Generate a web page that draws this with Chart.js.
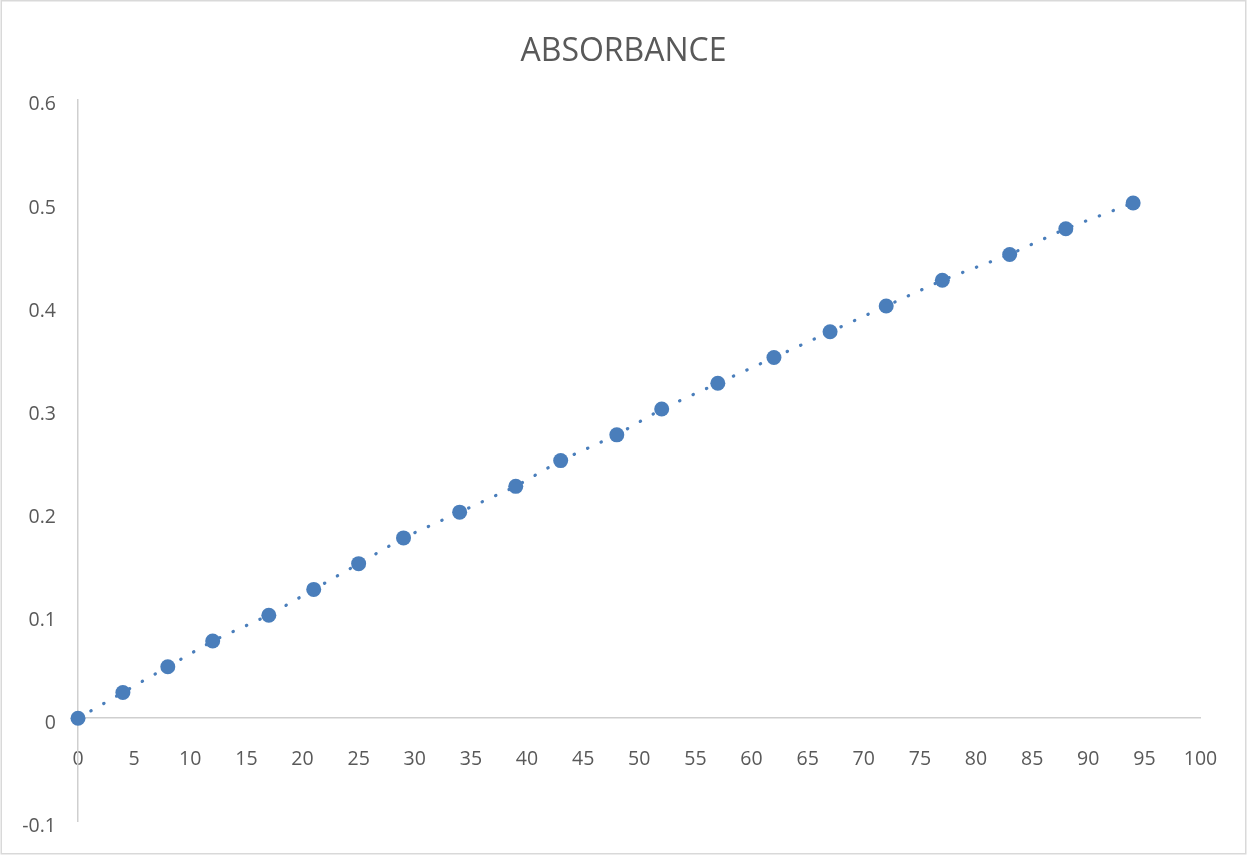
<!DOCTYPE html>
<html>
<head>
<meta charset="utf-8">
<script src="https://cdn.jsdelivr.net/npm/chart.js@4.4.0/dist/chart.umd.min.js"></script>
<style>
  html, body { margin: 0; padding: 0; background: #ffffff; }
  #wrap { position: relative; width: 1247px; height: 855px; }
</style>
</head>
<body>
<div id="wrap"><canvas id="chart"></canvas></div>
<script>
// Sample concentrations (x) and measured absorbance (y)
const concentration = [0, 4, 8, 12, 17, 21, 25, 29, 34, 39, 43, 48, 52, 57, 62, 67, 72, 77, 83, 88, 94];
const absorbance = [0, 0.025, 0.05, 0.075, 0.1, 0.125, 0.15, 0.175, 0.2, 0.225, 0.25,
                    0.275, 0.3, 0.325, 0.35, 0.375, 0.4, 0.425, 0.45, 0.475, 0.5];

// Axis ranges and tick spacing
const xRange = [0, 100];
const xStep = 5;
const yRange = [-0.1, 0.6];
const yStep = 0.1;

const chartTitle = 'ABSORBANCE';

const points = concentration.map((x, i) => ({ x, y: absorbance[i] }));

const BLUE = '#4a7ebb';
const TEXT = '#595959';
const AXIS = '#cfcfcf';
const FONT = "'Open Sans', 'DejaVu Sans', sans-serif";

// Light frame around the whole chart
const framePlugin = {
  id: 'frame',
  beforeDraw(chart) {
    const ctx = chart.ctx;
    ctx.save();
    ctx.fillStyle = '#ffffff';
    ctx.fillRect(0, 0, chart.width, chart.height);
    ctx.strokeStyle = '#d9d9d9';
    ctx.lineWidth = 1.5;
    ctx.strokeRect(1.25, 0.75, chart.width - 2.5, chart.height - 2);
    ctx.restore();
  }
};

new Chart(document.getElementById('chart'), {
  type: 'scatter',
  data: {
    datasets: [
      {
        label: 'Absorbance',
        data: points,
        showLine: true,
        borderColor: BLUE,
        borderWidth: 3.2,
        borderDash: [0.4, 14.4],
        borderCapStyle: 'round',
        pointRadius: 7.5,
        pointHoverRadius: 7.5,
        pointBackgroundColor: BLUE,
        pointBorderColor: BLUE,
        pointBorderWidth: 0,
        fill: false,
        clip: false
      }
    ]
  },
  options: {
    responsive: true,
    maintainAspectRatio: false,
    animation: false,
    events: [],
    layout: { padding: { left: 0, right: 0, top: 0, bottom: 29 } },
    plugins: {
      legend: { display: false },
      tooltip: { enabled: false },
      title: {
        display: true,
        text: chartTitle,
        color: TEXT,
        font: { family: FONT, size: 32, weight: 'normal', lineHeight: 1.2 },
        padding: { top: 33, bottom: 28.5 }
      }
    },
    scales: {
      x: {
        type: 'linear',
        position: { y: 0 },
        min: xRange[0],
        max: xRange[1],
        afterFit(scale) { scale.height = 0; },
        grid: { display: false, drawTicks: false },
        border: { display: true, color: AXIS, width: 1.5 },
        ticks: {
          stepSize: xStep,
          color: TEXT,
          font: { family: FONT, size: 19.5 },
          padding: 29,
          maxRotation: 0,
          autoSkip: false
        }
      },
      y: {
        type: 'linear',
        position: 'left',
        min: yRange[0],
        max: yRange[1],
        afterFit(scale) { scale.width = 78; },
        grid: { display: false, drawTicks: false },
        border: { display: true, color: AXIS, width: 1.5 },
        ticks: {
          stepSize: yStep,
          color: TEXT,
          font: { family: FONT, size: 19.5 },
          padding: 22,
          labelOffset: 5,
          callback: (v) => String(Math.round(v * 10) / 10)
        }
      },
      // empty right-hand margin so the plot ends at x = 100 while the title stays centred
      margin: {
        type: 'linear',
        position: 'right',
        display: true,
        afterFit(scale) { scale.width = 46.5; },
        grid: { display: false, drawTicks: false },
        border: { display: false },
        ticks: { display: false }
      }
    }
  },
  plugins: [framePlugin]
});
</script>
</body>
</html>
